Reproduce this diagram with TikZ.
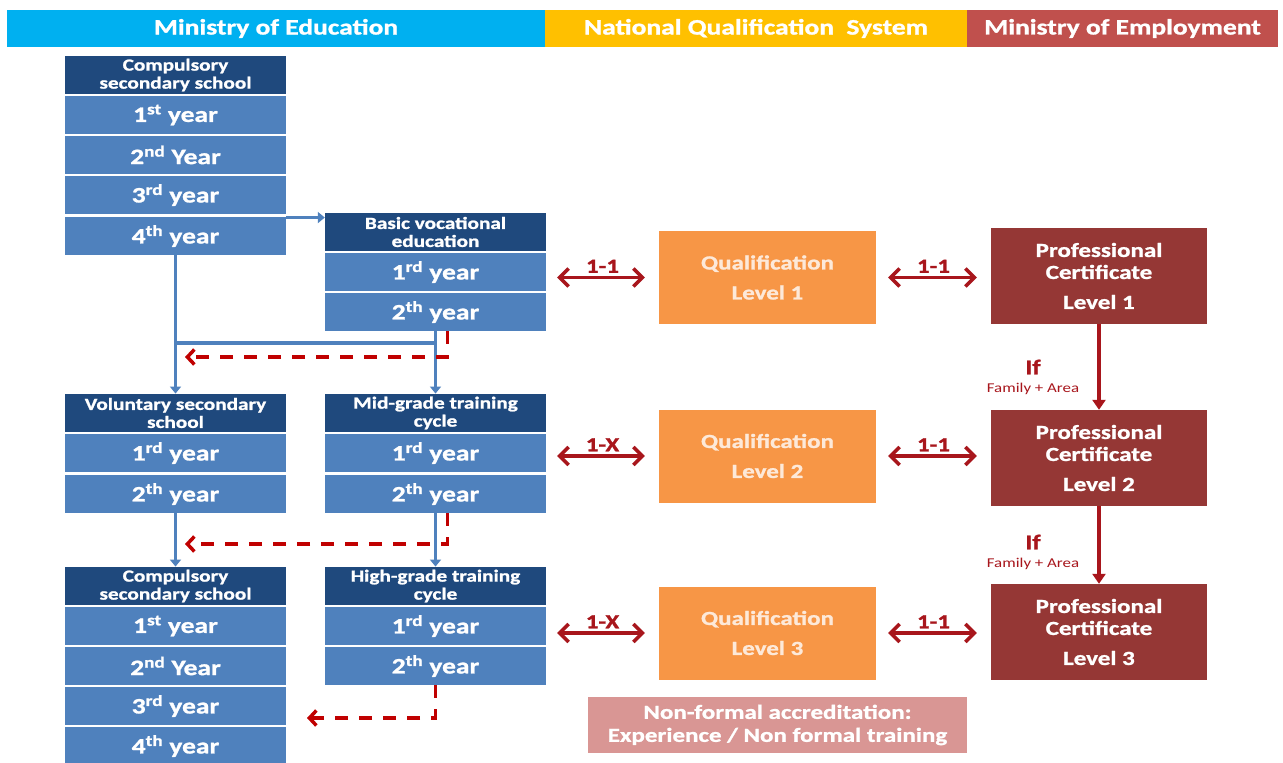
\documentclass[tikz,border=0pt]{standalone}
\usepackage{fontspec}
\setmainfont{Carlito}[FakeStretch=1.25, BoldFeatures={FakeBold=1.2}]
\usetikzlibrary{arrows.meta}

\definecolor{edublue}{HTML}{00B0F0}
\definecolor{nqsyellow}{HTML}{FFC000}
\definecolor{empred}{HTML}{C0504D}
\definecolor{navy}{HTML}{1F497D}
\definecolor{rowblue}{HTML}{4F81BD}
\definecolor{qualorange}{HTML}{F79646}
\definecolor{certred}{HTML}{953735}
\definecolor{linkred}{HTML}{A8161C}
\definecolor{dashred}{HTML}{C00000}
\definecolor{nfpink}{HTML}{D99694}
\definecolor{cream}{HTML}{FDE9D9}

\begin{document}
\begin{tikzpicture}[x=1pt,y=-1pt,
  bar/.style={minimum height=37pt, inner sep=0pt, text=white,
    font=\bfseries\fontsize{22}{26}\selectfont},
  hdr/.style={fill=navy, text=white, minimum width=221pt, minimum height=38.5pt,
    inner sep=0pt, align=center, font=\bfseries\fontsize{17}{18}\selectfont},
  yr/.style={fill=rowblue, text=white, minimum width=221pt, minimum height=38.5pt,
    inner sep=0pt, font=\bfseries\fontsize{22}{26}\selectfont},
  qual/.style={fill=qualorange, text=cream, minimum width=217pt, minimum height=93pt,
    inner sep=0pt, align=center, font=\bfseries\fontsize{20}{24}\selectfont},
  cert/.style={fill=certred, text=white, minimum width=216pt, minimum height=96pt,
    inner sep=0pt, align=center, font=\bfseries\fontsize{20}{22}\selectfont},
  nonformal/.style={fill=nfpink, text=white, minimum width=379pt, minimum height=56pt,
    inner sep=0pt, align=center, font=\bfseries\fontsize{20}{23}\selectfont},
  bluearrow/.style={draw=rowblue, line width=3.5pt, -{Triangle[width=11pt,length=7pt]}},
  blueline/.style={draw=rowblue, line width=3.5pt},
  redback/.style={draw=dashred, line width=3.5pt, dash pattern=on 13pt off 11pt,
    -{Straight Barb[length=7pt,width=15pt,line width=3.5pt]}},
  linkarrow/.style={draw=linkred, line width=3.5pt,
    {Straight Barb[length=9pt,width=18pt,line width=3.5pt]}-{Straight Barb[length=9pt,width=18pt,line width=3.5pt]}},
  linklabel/.style={text=linkred, inner sep=0pt, anchor=south, yshift=3pt,
    font=\bfseries\fontsize{20}{24}\selectfont},
  downarrow/.style={draw=linkred, line width=3.5pt, -{Triangle[width=13pt,length=10pt]}},
  iflabel/.style={text=linkred, inner sep=0pt, font=\bfseries\fontsize{21}{24}\selectfont},
  condlabel/.style={text=linkred, inner sep=0pt, font=\fontsize{13.5}{16}\selectfont}
]
\useasboundingbox (0,0) rectangle (1283,763);
\fill[white] (0,0) rectangle (1283,763);

% title bars
\node[bar, fill=edublue, minimum width=538pt] (barEdu) at (276,28.5) {Ministry of Education};
\node[bar, fill=nqsyellow, minimum width=422pt] (barNqs) at (756,28.5) {National Qualification\ \ System};
\node[bar, fill=empred, minimum width=311pt] (barEmp) at (1122.5,28.5) {Ministry of Employment};

% compulsory secondary school (top)
\node[hdr] (csAh) at (175.5,75) {Compulsory\\secondary school};
\node[yr] (csA1) at (175.5,115) {1\textsuperscript{st} year};
\node[yr] (csA2) at (175.5,155) {2\textsuperscript{nd} Year};
\node[yr] (csA3) at (175.5,195) {3\textsuperscript{rd} year};
\node[yr] (csA4) at (175.5,236) {4\textsuperscript{th} year};

% basic vocational education
\node[hdr] (bvh) at (435.5,232) {Basic vocational\\education};
\node[yr] (bv1) at (435.5,272) {1\textsuperscript{rd} year};
\node[yr] (bv2) at (435.5,312) {2\textsuperscript{th} year};

% voluntary secondary school
\node[hdr] (vsh) at (175.5,413) {Voluntary secondary\\school};
\node[yr] (vs1) at (175.5,453) {1\textsuperscript{rd} year};
\node[yr] (vs2) at (175.5,494) {2\textsuperscript{th} year};

% mid-grade training cycle
\node[hdr] (mgh) at (435.5,413) {Mid-grade training\\cycle};
\node[yr] (mg1) at (435.5,453) {1\textsuperscript{rd} year};
\node[yr] (mg2) at (435.5,494) {2\textsuperscript{th} year};

% compulsory secondary school (bottom)
\node[hdr] (csBh) at (175.5,586) {Compulsory\\secondary school};
\node[yr] (csB1) at (175.5,626) {1\textsuperscript{st} year};
\node[yr] (csB2) at (175.5,666) {2\textsuperscript{nd} Year};
\node[yr] (csB3) at (175.5,706) {3\textsuperscript{rd} year};
\node[yr] (csB4) at (175.5,746) {4\textsuperscript{th} year};

% high-grade training cycle
\node[hdr] (hgh) at (435.5,586) {High-grade training\\cycle};
\node[yr] (hg1) at (435.5,626) {1\textsuperscript{rd} year};
\node[yr] (hg2) at (435.5,666) {2\textsuperscript{th} year};

% qualification levels
\node[qual] (q1) at (767.5,277.5) {Qualification\\[6pt]Level 1};
\node[qual] (q2) at (767.5,456) {Qualification\\[6pt]Level 2};
\node[qual] (q3) at (767.5,633) {Qualification\\[6pt]Level 3};

% professional certificates
\node[cert] (pc1) at (1099,276) {Professional\\Certificate\\[8pt]Level 1};
\node[cert] (pc2) at (1099,458) {Professional\\Certificate\\[8pt]Level 2};
\node[cert] (pc3) at (1099,632) {Professional\\Certificate\\[8pt]Level 3};

% non-formal route
\node[nonformal] (nf) at (777.5,725) {Non-formal accreditation:\\Experience / Non formal training};

% pathways between school stages
\path ([yshift=-5pt]bvh.north west) coordinate (bvIn);
\draw[bluearrow] (csA4.east |- bvIn) -- (bvIn);
\draw[bluearrow] (csA4.south) -- (vsh.north);
\draw[bluearrow] (bv2.south) -- (mgh.north);
\coordinate (joinA) at (0,343);
\draw[blueline] (csA4.south |- joinA) -- (bv2.south |- joinA);
\draw[bluearrow] (vs2.south) -- (csBh.north);
\draw[bluearrow] (mg2.south) -- (hgh.north);

% return paths
\coordinate (backA) at (185,357);
\coordinate (backB) at (185,544);
\coordinate (backC) at (307,718);
\draw[redback] ([xshift=12pt]bv2.south) |- (backA);
\draw[redback] ([xshift=12pt]mg2.south) |- (backB);
\draw[redback] (hg2.south) |- (backC);

% correspondences
\draw[linkarrow, shorten <=11pt, shorten >=14pt] (bv1.east |- q1.west) -- (q1.west)
  node[midway, linklabel] {1-1};
\draw[linkarrow, shorten <=11pt, shorten >=14pt] (mg1.east |- q2.west) -- (q2.west)
  node[midway, linklabel] {1-X};
\draw[linkarrow, shorten <=11pt, shorten >=14pt] (hg1.east |- q3.west) -- (q3.west)
  node[midway, linklabel] {1-X};
\draw[linkarrow, shorten <=12pt, shorten >=14pt] (q1.east) -- (pc1.west |- q1.east)
  node[midway, linklabel] {1-1};
\draw[linkarrow, shorten <=12pt, shorten >=14pt] (q2.east) -- (pc2.west |- q2.east)
  node[midway, linklabel] {1-1};
\draw[linkarrow, shorten <=12pt, shorten >=14pt] (q3.east) -- (pc3.west |- q3.east)
  node[midway, linklabel] {1-1};

% certificate progression
\draw[downarrow] (pc1.south) -- (pc2.north);
\draw[downarrow] (pc2.south) -- (pc3.north);
\node[iflabel] (ifA) at (1033,367) {If};
\node[condlabel] (condA) at (1033,389) {Family + Area};
\node[iflabel] (ifB) at (1033,542) {If};
\node[condlabel] (condB) at (1033,564) {Family + Area};
\end{tikzpicture}
\end{document}
